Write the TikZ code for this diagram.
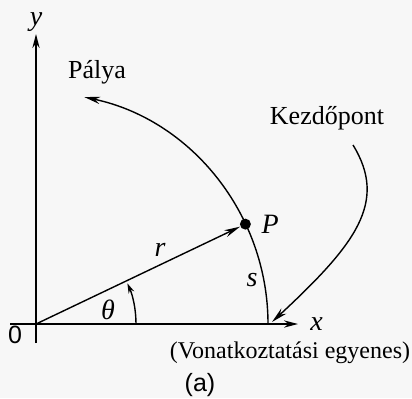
\documentclass[tikz,border=0pt]{standalone}
\usepackage{fontspec}
\setmainfont{Liberation Serif}
\setsansfont{Liberation Sans}
\usetikzlibrary{arrows.meta, positioning}

\begin{document}
\begin{tikzpicture}[
    x=0.5pt, y=0.5pt,
    font=\fontsize{13}{15}\selectfont,
    axis/.style={line width=1pt, -{Stealth[length=7pt, width=3.6pt]}},
    path/.style={line width=0.7pt, -{Stealth[length=8pt, width=3.6pt]}},
    angarrow/.style={line width=0.7pt, -{Stealth[length=5pt, width=3pt]}},
    dot/.style={circle, fill, inner sep=0pt, minimum size=5.5pt},
    lbl/.style={inner sep=1pt},
    sym/.style={inner sep=1pt, font=\fontsize{14}{16}\selectfont\itshape},
    num/.style={inner sep=1pt, font=\sffamily\fontsize{12.5}{14}\selectfont}
]
% Paper
\fill[black!3] (-36,-74) rectangle (376,324);
\useasboundingbox (-36,-74) rectangle (376,324);

% Axes
\coordinate (O) at (0,0);
\coordinate (xbeg) at (-26,0);
\coordinate (xend) at (262,0);
\coordinate (ybeg) at (0,-19);
\coordinate (yend) at (0,290);
\draw[axis] (xbeg) -- (xend);
\draw[axis] (ybeg) -- (yend);
\node[sym, right=5pt of xend] (xl) {x};
\node[sym, above=0pt of yend] (yl) {y};
\node[num] (zero) at (-21,-11) {0};

% Trajectory
\coordinate (s0) at (232,0);
\draw[path] (s0) arc[start angle=0, end angle=78, radius=116pt];
\node[lbl] (palya) at (61,252) {Pálya};

% Position vector
\node[dot] (P) at (25.5:232) {};
\draw[path] (O) -- (P);
\node[sym, right=4pt of P] (pl) {P};
\node[sym] (rl) at (124,74) {r};
\node[sym] (sl) at (216,44) {s};

% Angle
\coordinate (a0) at (100,0);
\draw[angarrow] (a0) arc[start angle=0, end angle=24, radius=50pt];
\node[sym] (thl) at (72,14) {θ};

% Starting point
\node[lbl] (kezdo) at (291,206) {Kezdőpont};
\coordinate (kstart) at (317,179);
\coordinate (kend) at (236,2);
\draw[path] (kstart) .. controls (352,122) and (320,80) .. (kend);

% Reference line
\node[lbl, font=\fontsize{12}{14}\selectfont] (vonat) at (254,-29) {(Vonatkoztatási egyenes)};
\node[num] (cap) at (164,-61) {(a)};

\end{tikzpicture}
\end{document}
